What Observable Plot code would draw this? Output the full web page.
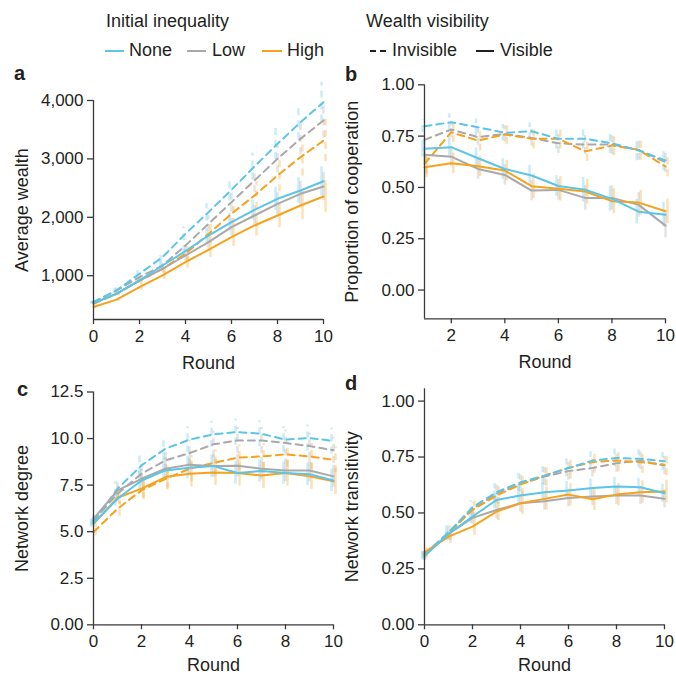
<!DOCTYPE html>
<html><head><meta charset="utf-8">
<script src="https://cdn.jsdelivr.net/npm/d3@7"></script>
<script src="https://cdn.jsdelivr.net/npm/@observablehq/plot@0.6"></script>
<style>
body{margin:0;background:#fff;font-family:"Liberation Sans",Arial,sans-serif;color:#231f20}
#root{position:relative;width:676px;height:677px;overflow:hidden;background:#fff}
#root > svg{position:absolute}
</style></head><body><div id="root"></div>
<script>
// ---------- data ----------
const levels = ["None", "Low", "High"];
const visibilities = ["Invisible", "Visible"];
const rounds0 = [0,1,2,3,4,5,6,7,8,9,10];
const rounds1 = [1,2,3,4,5,6,7,8,9,10];

// a: average wealth
const wealthNoneInv = [547,747,1033,1317,1717,2088,2471,2870,3258,3628,3971];
const wealthLowInv  = [547,747,975,1175,1517,1889,2259,2630,3002,3344,3658];
const wealthHighInv = [519,690,913,1118,1375,1717,2060,2373,2716,3029,3315];
const wealthNoneVis = [530,690,918,1175,1420,1688,1917,2128,2317,2459,2618];
const wealthLowVis  = [530,690,918,1118,1346,1574,1831,2031,2231,2402,2527];
const wealthHighVis = [463,590,804,1004,1232,1444,1660,1860,2031,2202,2356];
const wealthErrNoneInv = [20,40,60,90,120,150,190,230,270,300,340];
const wealthErrLowInv  = [20,40,60,80,110,140,170,210,240,270,300];
const wealthErrHighInv = [20,40,60,90,120,160,200,240,280,320,360];
const wealthErrNoneVis = [20,30,50,70,100,120,150,170,200,220,250];
const wealthErrLowVis  = [20,30,50,70,100,120,150,170,190,210,240];
const wealthErrHighVis = [20,30,50,70,100,130,160,180,210,240,270];

// b: proportion of cooperation
const coopNoneInv = [0.798,0.818,0.793,0.766,0.774,0.737,0.737,0.715,0.680,0.631];
const coopLowInv  = [0.732,0.782,0.745,0.761,0.741,0.715,0.709,0.709,0.683,0.623];
const coopHighInv = [0.615,0.769,0.728,0.758,0.737,0.737,0.676,0.704,0.683,0.602];
const coopNoneVis = [0.688,0.696,0.642,0.590,0.558,0.507,0.489,0.444,0.382,0.367];
const coopLowVis  = [0.659,0.650,0.590,0.561,0.485,0.488,0.449,0.449,0.415,0.314];
const coopHighVis = [0.598,0.618,0.603,0.582,0.506,0.493,0.480,0.433,0.426,0.384];
const coopErrNoneInv = [0.03,0.04,0.04,0.04,0.04,0.05,0.05,0.05,0.05,0.05];
const coopErrLowInv  = [0.03,0.04,0.04,0.04,0.04,0.05,0.05,0.05,0.05,0.05];
const coopErrHighInv = [0.05,0.05,0.05,0.05,0.05,0.05,0.05,0.05,0.05,0.05];
const coopErrNoneVis = [0.04,0.05,0.05,0.05,0.05,0.05,0.06,0.06,0.06,0.06];
const coopErrLowVis  = [0.04,0.05,0.05,0.05,0.05,0.05,0.06,0.06,0.06,0.06];
const coopErrHighVis = [0.05,0.05,0.05,0.05,0.06,0.06,0.06,0.06,0.06,0.06];

// c: network degree
const degreeNoneInv = [5.52,7.30,8.56,9.46,9.94,10.23,10.35,10.26,9.94,10.03,9.87];
const degreeLowInv  = [5.60,7.04,8.11,8.83,9.22,9.69,9.90,9.90,9.76,9.60,9.37];
const degreeHighInv = [4.98,6.23,7.22,7.84,8.38,8.69,8.97,9.04,9.15,9.04,8.86];
const degreeNoneVis = [5.43,6.77,7.75,8.29,8.43,8.52,8.15,8.26,8.15,8.08,7.75];
const degreeLowVis  = [5.69,7.22,7.84,8.38,8.60,8.52,8.54,8.38,8.29,8.29,7.97];
const degreeHighVis = [5.43,6.82,7.31,7.93,8.11,8.18,8.15,8.02,8.15,7.97,7.70];
const degreeErrNoneInv = [0.2,0.4,0.5,0.6,0.7,0.7,0.7,0.7,0.7,0.7,0.7];
const degreeErrLowInv  = [0.2,0.4,0.5,0.6,0.7,0.7,0.7,0.7,0.7,0.7,0.7];
const degreeErrHighInv = [0.2,0.4,0.5,0.6,0.7,0.7,0.7,0.7,0.7,0.7,0.7];
const degreeErrNoneVis = [0.2,0.4,0.5,0.6,0.6,0.6,0.6,0.6,0.6,0.6,0.6];
const degreeErrLowVis  = [0.2,0.4,0.5,0.6,0.6,0.6,0.6,0.6,0.6,0.6,0.6];
const degreeErrHighVis = [0.2,0.4,0.5,0.6,0.7,0.7,0.7,0.7,0.7,0.7,0.7];

// d: network transitivity
const transNoneInv = [0.316,0.413,0.525,0.593,0.637,0.667,0.701,0.734,0.746,0.742,0.731];
const transLowInv  = [0.309,0.413,0.518,0.585,0.630,0.663,0.687,0.701,0.722,0.734,0.712];
const transHighInv = [0.316,0.409,0.513,0.578,0.627,0.667,0.701,0.728,0.734,0.727,0.716];
const transNoneVis = [0.309,0.406,0.484,0.558,0.578,0.593,0.600,0.612,0.618,0.615,0.588];
const transLowVis  = [0.309,0.406,0.478,0.513,0.543,0.552,0.567,0.573,0.578,0.578,0.563];
const transHighVis = [0.324,0.394,0.439,0.506,0.543,0.563,0.582,0.561,0.582,0.593,0.596];
const transErrNoneInv = [0.02,0.03,0.03,0.04,0.04,0.04,0.04,0.04,0.04,0.04,0.04];
const transErrLowInv  = [0.02,0.03,0.03,0.04,0.04,0.04,0.04,0.04,0.04,0.04,0.04];
const transErrHighInv = [0.02,0.03,0.04,0.04,0.05,0.05,0.05,0.05,0.05,0.05,0.05];
const transErrNoneVis = [0.02,0.03,0.03,0.04,0.04,0.04,0.04,0.04,0.04,0.04,0.04];
const transErrLowVis  = [0.02,0.03,0.03,0.04,0.04,0.04,0.04,0.04,0.04,0.04,0.04];
const transErrHighVis = [0.02,0.03,0.04,0.04,0.05,0.05,0.05,0.05,0.05,0.05,0.05];

// tick values
const roundTicks = [0,2,4,6,8,10];
const roundTicksB = [2,4,6,8,10];
const wealthTicks = [1000,2000,3000,4000];
const coopTicks = [0,0.25,0.5,0.75,1];
const degreeTicks = [0,2.5,5,7.5,10,12.5];
const degreeTickLabels = ["0.00","2.5","5.0","7.5","10.0","12.5"];
const transTicks = [0,0.25,0.5,0.75,1];

// ---------- styling ----------
const colors = {None: "#5bc5e8", Low: "#a9a9a9", High: "#f7a11d"};
const dashes = {Invisible: "7,5", Visible: null};
const dodge = {None: -2, Low: 0, High: 2};
const axisColor = "#3a3a3a";
const FONT = "'Liberation Sans', Arial, Helvetica, sans-serif";
const TICK_FS = 17, LABEL_FS = 18, LEGEND_FS = 18;

function makeSeries(xs, arrs) {
  return arrs.map(([level, vis, vals, errs]) => ({
    level, vis,
    rows: xs.map((x, i) => ({x, y: vals[i], lo: vals[i] - errs[i], hi: vals[i] + errs[i]}))
  }));
}

function panel(cfg) {
  const marks = [];
  for (const s of cfg.series) {
    marks.push(Plot.ruleX(s.rows, {x: "x", y1: "lo", y2: "hi", stroke: colors[s.level],
      strokeOpacity: 0.32, strokeWidth: 2.5, strokeDasharray: dashes[s.vis], dx: dodge[s.level]}));
  }
  const order = ["Low", "High", "None"];
  for (const vis of ["Invisible", "Visible"]) for (const lv of order) {
    const s = cfg.series.find(d => d.level === lv && d.vis === vis);
    marks.push(Plot.line(s.rows, {x: "x", y: "y", stroke: colors[s.level], strokeWidth: 2,
      strokeDasharray: dashes[s.vis]}));
  }
  marks.push(Plot.ruleX([cfg.xDomain[0]], {stroke: axisColor, strokeWidth: 1.3}));
  marks.push(Plot.ruleY([cfg.yDomain[0]], {stroke: axisColor, strokeWidth: 1.3}));
  marks.push(Plot.axisX({ticks: cfg.xTicks, tickSize: 5, tickPadding: 5, label: null,
    stroke: axisColor, strokeWidth: 1.3, fontSize: TICK_FS, tickFormat: d => String(d)}));
  marks.push(Plot.axisY({ticks: cfg.yTicks, tickSize: 6, tickPadding: 4, label: null,
    stroke: axisColor, strokeWidth: 1.3, fontSize: TICK_FS, tickFormat: cfg.yFormat}));
  marks.push(Plot.text(["Round"], {frameAnchor: "bottom", textAnchor: "middle", dy: cfg.xLabelDy,
    fontSize: LABEL_FS, text: d => d}));
  marks.push(Plot.text([cfg.ylabel], {frameAnchor: "left", textAnchor: "middle", rotate: -90,
    dx: cfg.yLabelDx, fontSize: LABEL_FS, text: d => d}));

  const svg = Plot.plot({
    width: cfg.W, height: cfg.H,
    marginLeft: cfg.ml, marginRight: cfg.mr, marginTop: cfg.mt, marginBottom: cfg.mb,
    x: {domain: cfg.xDomain},
    y: {domain: cfg.yDomain},
    style: {fontFamily: FONT, fontSize: TICK_FS + "px", color: "#231f20", background: "transparent", overflow: "visible"},
    marks
  });
  svg.style.left = cfg.left + "px";
  svg.style.top = cfg.top + "px";
  document.getElementById("root").appendChild(svg);
}

const root = document.getElementById("root");

panel({
  left: 0, top: 60, W: 338, H: 320, ml: 93, mr: 15, mt: 40, mb: 61,
  xDomain: [0, 10], yDomain: [250, 4000], xTicks: roundTicks, yTicks: wealthTicks,
  yFormat: d3.format(","), ylabel: "Average wealth", yLabelDx: -71, xLabelDy: 49,
  series: makeSeries(rounds0, [
    ["None","Invisible",wealthNoneInv,wealthErrNoneInv],["Low","Invisible",wealthLowInv,wealthErrLowInv],
    ["High","Invisible",wealthHighInv,wealthErrHighInv],["None","Visible",wealthNoneVis,wealthErrNoneVis],
    ["Low","Visible",wealthLowVis,wealthErrLowVis],["High","Visible",wealthHighVis,wealthErrHighVis]])
});

panel({
  left: 338, top: 60, W: 338, H: 320, ml: 86, mr: 11, mt: 24.3, mb: 61.7,
  xDomain: [1, 10], yDomain: [-0.14, 1], xTicks: roundTicksB, yTicks: coopTicks,
  yFormat: d3.format(".2f"), ylabel: "Proportion of cooperation", yLabelDx: -72, xLabelDy: 49,
  series: makeSeries(rounds1, [
    ["None","Invisible",coopNoneInv,coopErrNoneInv],["Low","Invisible",coopLowInv,coopErrLowInv],
    ["High","Invisible",coopHighInv,coopErrHighInv],["None","Visible",coopNoneVis,coopErrNoneVis],
    ["Low","Visible",coopLowVis,coopErrLowVis],["High","Visible",coopHighVis,coopErrHighVis]])
});

panel({
  left: 0, top: 380, W: 338, H: 297, ml: 93, mr: 5, mt: 11.5, mb: 52.7,
  xDomain: [0, 10], yDomain: [0, 12.5], xTicks: roundTicks, yTicks: degreeTicks,
  yFormat: d => degreeTickLabels[degreeTicks.indexOf(d)], ylabel: "Network degree", yLabelDx: -71, xLabelDy: 46,
  series: makeSeries(rounds0, [
    ["None","Invisible",degreeNoneInv,degreeErrNoneInv],["Low","Invisible",degreeLowInv,degreeErrLowInv],
    ["High","Invisible",degreeHighInv,degreeErrHighInv],["None","Visible",degreeNoneVis,degreeErrNoneVis],
    ["Low","Visible",degreeLowVis,degreeErrLowVis],["High","Visible",degreeHighVis,degreeErrHighVis]])
});

panel({
  left: 338, top: 380, W: 338, H: 297, ml: 86, mr: 12, mt: 8.3, mb: 52.7,
  xDomain: [0, 10], yDomain: [0, 1.055], xTicks: roundTicks, yTicks: transTicks,
  yFormat: d3.format(".2f"), ylabel: "Network transitivity", yLabelDx: -72, xLabelDy: 46,
  series: makeSeries(rounds0, [
    ["None","Invisible",transNoneInv,transErrNoneInv],["Low","Invisible",transLowInv,transErrLowInv],
    ["High","Invisible",transHighInv,transErrHighInv],["None","Visible",transNoneVis,transErrNoneVis],
    ["Low","Visible",transLowVis,transErrLowVis],["High","Visible",transHighVis,transErrHighVis]])
});

// ---------- legend + panel letters (overlay) ----------
const ov = d3.select(root).append("svg")
  .attr("width", 676).attr("height", 677)
  .style("left", "0px").style("top", "0px").style("pointer-events", "none")
  .style("font-family", FONT).style("fill", "#231f20");

ov.append("text").attr("x", 106).attr("y", 27).attr("font-size", LEGEND_FS).text("Initial inequality");
ov.append("text").attr("x", 366).attr("y", 27).attr("font-size", LEGEND_FS).text("Wealth visibility");

const levelLegend = [
  {label: levels[0], x1: 105, x2: 124, tx: 129},
  {label: levels[1], x1: 187, x2: 206, tx: 212},
  {label: levels[2], x1: 262, x2: 282, tx: 287}
];
for (const d of levelLegend) {
  ov.append("line").attr("x1", d.x1).attr("x2", d.x2).attr("y1", 51).attr("y2", 51)
    .attr("stroke", colors[d.label]).attr("stroke-width", 2);
  ov.append("text").attr("x", d.tx).attr("y", 56).attr("font-size", LEGEND_FS).text(d.label);
}
ov.append("line").attr("x1", 370).attr("x2", 386).attr("y1", 51).attr("y2", 51)
  .attr("stroke", "#231f20").attr("stroke-width", 2).attr("stroke-dasharray", "6,4");
ov.append("text").attr("x", 392).attr("y", 56).attr("font-size", LEGEND_FS).text(visibilities[0]);
ov.append("line").attr("x1", 476).attr("x2", 494).attr("y1", 51).attr("y2", 51)
  .attr("stroke", "#231f20").attr("stroke-width", 2);
ov.append("text").attr("x", 500).attr("y", 56).attr("font-size", LEGEND_FS).text(visibilities[1]);

const letters = [["a", 14, 80], ["b", 345, 81], ["c", 17, 396], ["d", 345, 390]];
for (const [t, x, y] of letters) {
  ov.append("text").attr("x", x).attr("y", y).attr("font-size", 20).attr("font-weight", "bold").text(t);
}
</script></body></html>
